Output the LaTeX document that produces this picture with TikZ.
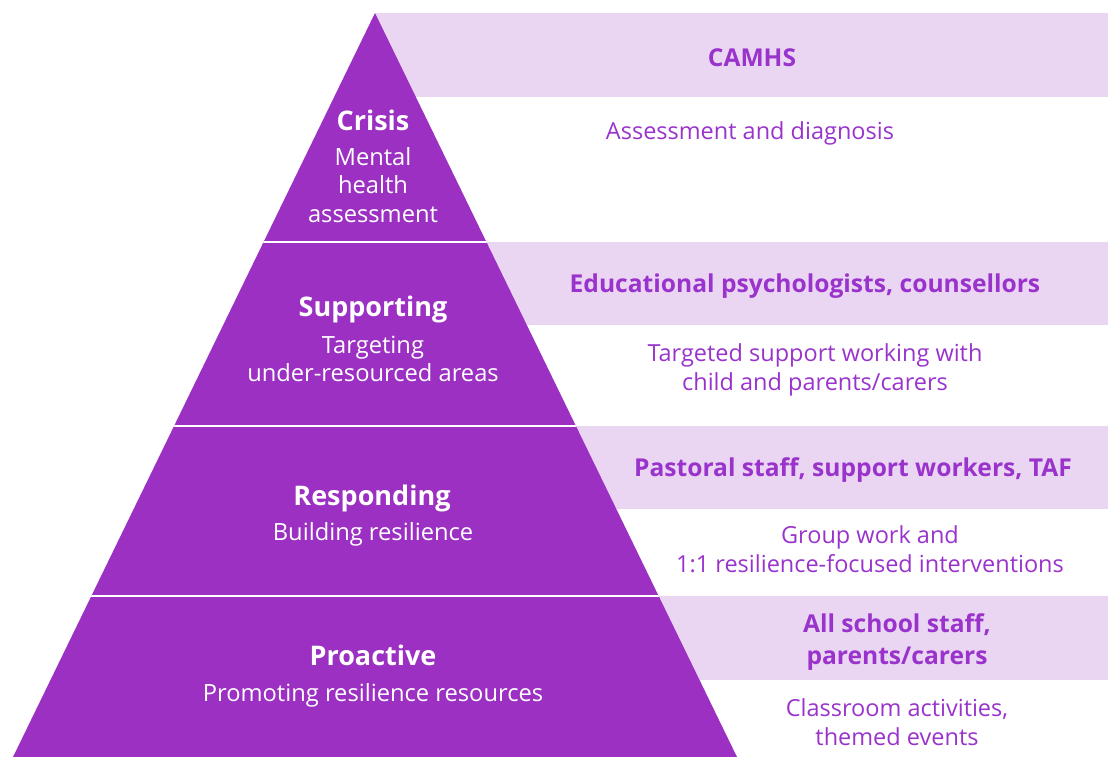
\documentclass[tikz,border=0pt]{standalone}
\usepackage{fontspec}
\setmainfont{Open Sans}
\usepackage{xcolor}
\usepackage{tikz}
\usetikzlibrary{positioning}
\definecolor{pyramidpurple}{RGB}{155, 48, 194}
\definecolor{bandlilac}{RGB}{234, 214, 243}
\definecolor{textpurple}{RGB}{153, 51, 204}

\begin{document}
\begin{tikzpicture}[x=1pt, y=-1pt,
    band/.style={fill=bandlilac, draw=none},
    tier/.style={text=white, font=\fontsize{27}{30}\selectfont\bfseries,
                 align=center, inner sep=0pt},
    tierdesc/.style={text=white, font=\fontsize{23.7}{28.5}\selectfont,
                 align=center, inner sep=0pt},
    who/.style={text=textpurple, font=\fontsize{24.6}{32}\selectfont\bfseries,
                 align=center, inner sep=0pt},
    what/.style={text=textpurple, font=\fontsize{23.5}{28.5}\selectfont,
                 align=center, inner sep=0pt}
]
    \useasboundingbox (0,0) rectangle (1109,757);

    % light bands behind the pyramid
    \fill[band] (375,13) rectangle (1108,97);
    \fill[band] (480,242) rectangle (1108,325);
    \fill[band] (560,426) rectangle (1108,509);
    \fill[band] (650,596) rectangle (1108,680);

    % the pyramid and its white separators
    \fill[pyramidpurple] (375,13) -- (737,757) -- (13,757) -- cycle;
    \begin{scope}
        \clip (375,13) -- (737,757) -- (13,757) -- cycle;
        \foreach \y in {242,426,596}
            \draw[white, line width=2pt] (0,\y) -- (800,\y);
    \end{scope}

    % tiers
    \node[tier] (crisis) at (373,120) {Crisis};
    \node[tierdesc] (crisisdesc) at (373,185) {Mental\\health\\assessment};
    \node[tier] (supporting) at (373,309) {Supporting};
    \node[tierdesc] (supportingdesc) at (373,359) {Targeting\\under-resourced areas};
    \node[tier] (responding) at (372,498) {Responding};
    \node[tierdesc] (respondingdesc) at (373,534) {Building resilience};
    \node[tier] (proactive) at (373,655) {Proactive};
    \node[tierdesc] (proactivedesc) at (373,695) {Promoting resilience resources};

    % who delivers, and what
    \node[who] (camhs) at (752,58) {CAMHS};
    \node[what] (camhsdesc) at (750,133) {Assessment and diagnosis};
    \node[who] (edpsych) at (805,286) {Educational psychologists, counsellors};
    \node[what] (edpsychdesc) at (815,370) {Targeted support working with\\child and parents/carers};
    \node[who] (pastoral) at (853,470) {Pastoral staff, support workers, TAF};
    \node[what] (pastoraldesc) at (870,549) {Group work and\\1:1 resilience-focused interventions};
    \node[who] (allstaff) at (897,642) {All school staff,\\parents/carers};
    \node[what] (allstaffdesc) at (897,722) {Classroom activities,\\themed events};
\end{tikzpicture}
\end{document}
